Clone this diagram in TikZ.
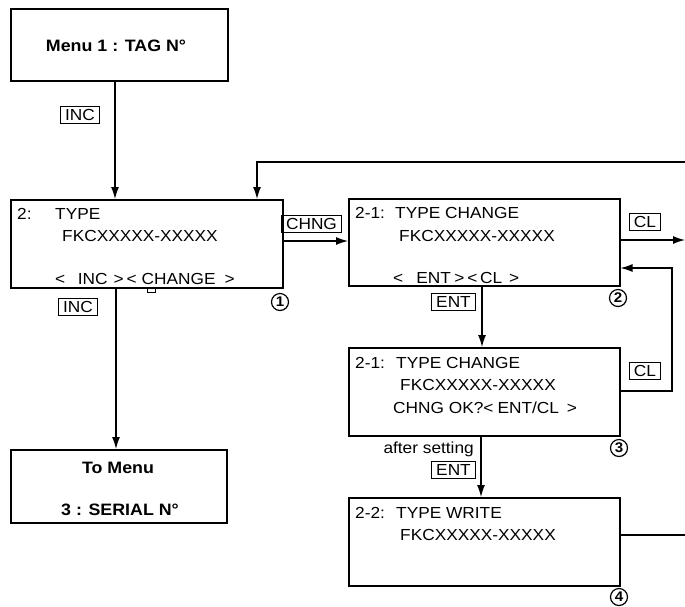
\documentclass[tikz,border=0pt]{standalone}
\usepackage{fontspec}
\setmainfont{Liberation Sans}[FakeStretch=1.08]
\usetikzlibrary{arrows.meta}
\tikzset{
  scr/.style={draw, line width=1.5pt, inner sep=0pt},
  arr/.style={line width=1.2pt, -{Latex[length=12pt,width=8pt]}},
  ln/.style={line width=1.2pt},
  keybox/.style={draw, line width=0.9pt, inner xsep=4.5pt, inner ysep=3pt, text height=11pt, text depth=0pt, font=\fontsize{16}{16}\selectfont},
  txt/.style={anchor=base west, inner sep=0pt, font=\fontsize{16}{16}\selectfont},
  btxt/.style={anchor=base, inner sep=0pt, font=\fontsize{16.5}{16.5}\selectfont\bfseries},
  num/.style={circle, draw, line width=1.2pt, inner sep=0pt, minimum size=17pt, font=\fontsize{14}{14}\selectfont\bfseries},
}
\begin{document}
\begin{tikzpicture}[x=1pt,y=-1pt]
\useasboundingbox (0,0) rectangle (685,606);
% screens
\node[scr, minimum width=217pt, minimum height=72pt, anchor=north west] (m1) at (10,8) {};
\node[scr, minimum width=272pt, minimum height=88pt, anchor=north west] (b2) at (10,199) {};
\node[scr, minimum width=271pt, minimum height=87pt, anchor=north west] (b3) at (348,198) {};
\node[scr, minimum width=271pt, minimum height=88pt, anchor=north west] (b4) at (348,347) {};
\node[scr, minimum width=271pt, minimum height=88pt, anchor=north west] (b5) at (348,497) {};
\node[scr, minimum width=216pt, minimum height=73pt, anchor=north west] (b6) at (10,449) {};
% texts
\node[btxt] (t1) at (116,51) {Menu 1 : TAG N°};
\node[txt] (t2a) at (17,219) {2:};
\node[txt] (t2b) at (55,219) {TYPE};
\node[txt] (t2c) at (62,241) {FKCXXXXX-XXXXX};
\node[txt] (t2d) at (55,284) {<\hspace{12.5pt}INC\hspace{6pt}>\hspace{3pt}<\hspace{5pt}CHANGE\hspace{9pt}>};
\node[txt] (t3a) at (355,218) {2-1:};
\node[txt] (t3b) at (395,218) {TYPE CHANGE};
\node[txt] (t3c) at (399,241) {FKCXXXXX-XXXXX};
\node[txt] (t3d) at (393,283) {<\hspace{13pt}ENT\hspace{3.5pt}>\hspace{3pt}<\hspace{2.5pt}CL\hspace{7pt}>};
\node[txt] (t4a) at (355,368) {2-1:};
\node[txt] (t4b) at (396,368) {TYPE CHANGE};
\node[txt] (t4c) at (400,390) {FKCXXXXX-XXXXX};
\node[txt] (t4d) at (393,413) {CHNG OK?<\hspace{4pt}ENT/CL\hspace{8pt}>};
\node[txt] (t5a) at (355,518) {2-2:};
\node[txt] (t5b) at (396,518) {TYPE WRITE};
\node[txt] (t5c) at (400,540) {FKCXXXXX-XXXXX};
\node[btxt] (t6a) at (118,473) {To Menu};
\node[btxt] (t6b) at (120,515) {3 : SERIAL N°};
% small mark
\draw[line width=0.9pt] (147,287) rectangle (155,292);
% key labels
\node[keybox] (k1) at (80,115) {INC};
\node[keybox] (k2) at (78,307) {INC};
\node[keybox] (k3) at (311.5,224) {CHNG};
\node[keybox] (k4) at (645,221.5) {CL};
\node[keybox] (k5) at (453.5,301.5) {ENT};
\node[keybox] (k6) at (645,371) {CL};
\node[keybox] (k7) at (453.5,470) {ENT};
\node[anchor=east, inner sep=0pt, font=\fontsize{16}{16}\selectfont] (as) at (474,449) {after setting};
% numbers
\node[num] (n1) at (280,302) {1};
\node[num] (n2) at (618,298) {2};
\node[num] (n3) at (619,448) {3};
\node[num] (n4) at (619,597) {4};
% edge coordinates
\coordinate (topR) at (685,162);
\coordinate (clR) at (685,240);
\coordinate (wrR) at (685,535);
\coordinate (rtn) at (672,391);
% connectors
\draw[arr] (115,0 |- m1.south) -- (115,0 |- b2.north);
\draw[arr] (b2.east |- 0,241) -- (b3.west |- 0,241);
\draw[arr] (topR) -- (257,162) -- (257,0 |- b2.north);
\draw[arr] (b3.east |- clR) -- (clR);
\draw[arr] (b4.east |- rtn) -- (rtn) -- (672,268) -- (b3.east |- 0,268);
\draw[arr] (482,0 |- b3.south) -- (482,0 |- b4.north);
\draw[arr] (481,0 |- b4.south) -- (481,0 |- b5.north);
\draw[ln] (b5.east |- wrR) -- (wrR);
\draw[arr] (116,0 |- b2.south) -- (116,0 |- b6.north);
\end{tikzpicture}
\end{document}
